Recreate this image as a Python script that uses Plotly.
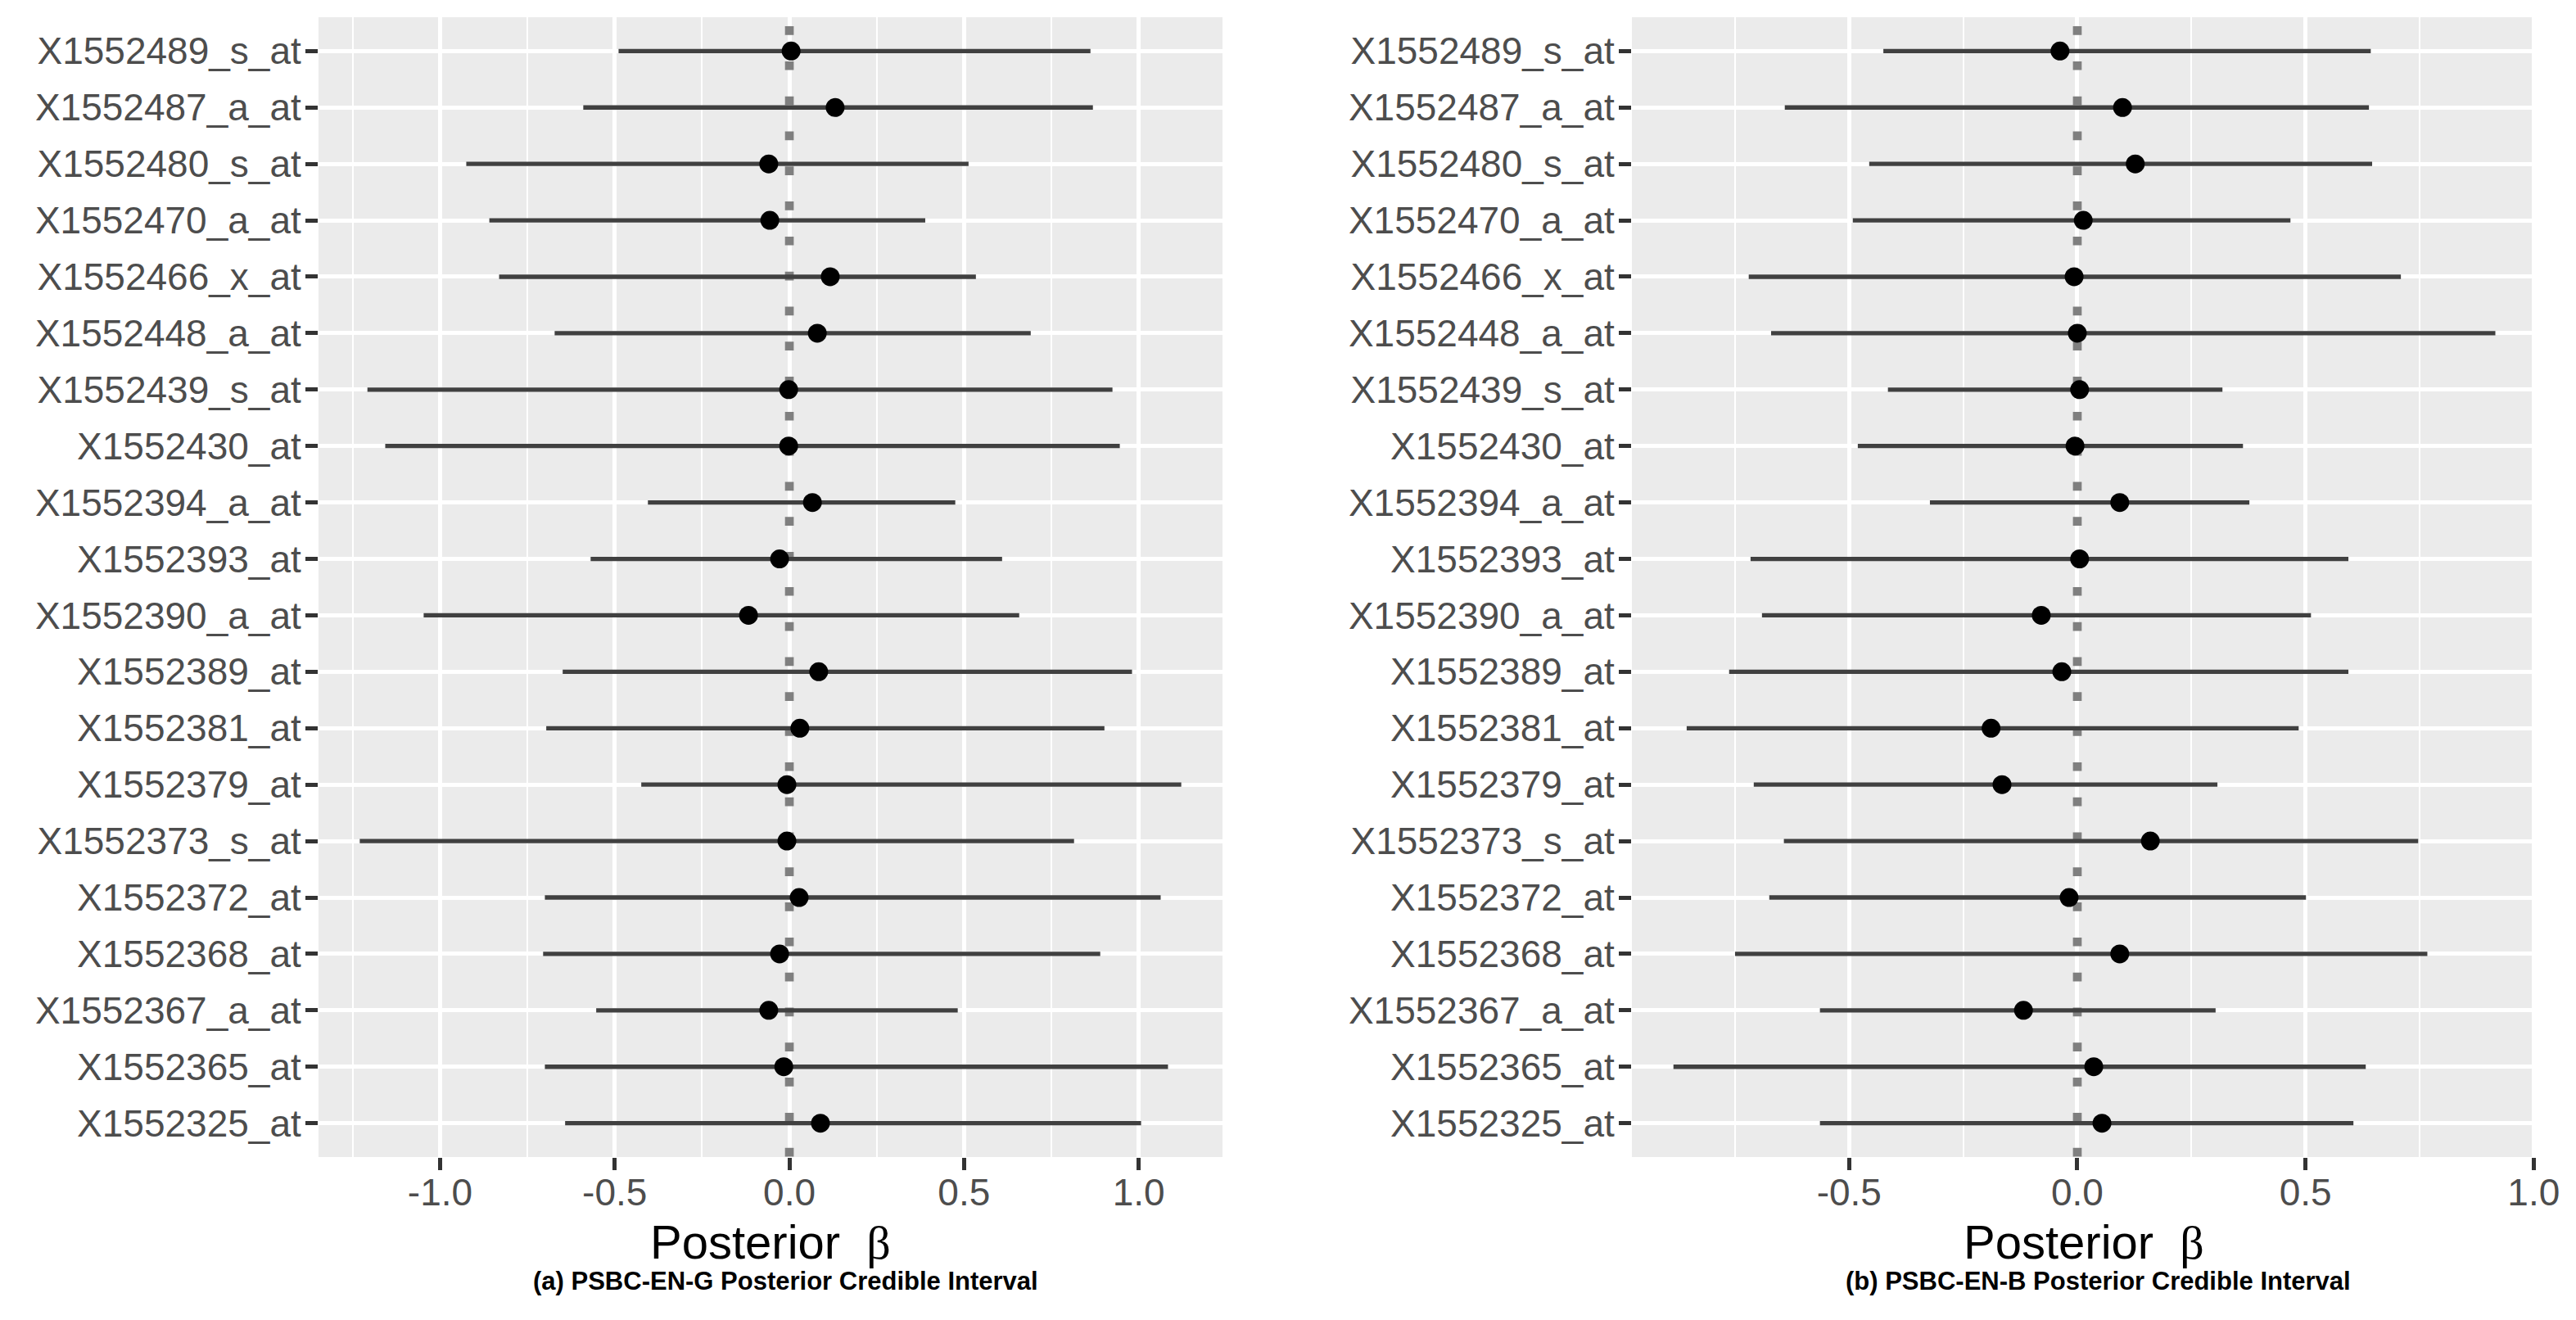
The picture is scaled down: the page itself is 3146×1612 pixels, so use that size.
import plotly.graph_objects as go

genes = ["X1552489_s_at", "X1552487_a_at", "X1552480_s_at", "X1552470_a_at",
         "X1552466_x_at", "X1552448_a_at", "X1552439_s_at", "X1552430_at",
         "X1552394_a_at", "X1552393_at", "X1552390_a_at", "X1552389_at",
         "X1552381_at", "X1552379_at", "X1552373_s_at", "X1552372_at",
         "X1552368_at", "X1552367_a_at", "X1552365_at", "X1552325_at"]

# (a) PSBC-EN-G
g_est = [0.005, 0.131, -0.059, -0.056, 0.117, 0.080, -0.002, -0.002, 0.066, -0.028,
         -0.117, 0.084, 0.030, -0.007, -0.007, 0.028, -0.028, -0.059, -0.016, 0.089]
g_low = [-0.489, -0.590, -0.925, -0.859, -0.831, -0.672, -1.208, -1.157, -0.405, -0.569,
         -1.047, -0.649, -0.696, -0.424, -1.230, -0.700, -0.705, -0.553, -0.700, -0.642]
g_high = [0.862, 0.869, 0.513, 0.389, 0.534, 0.691, 0.925, 0.946, 0.475, 0.609,
          0.658, 0.981, 0.902, 1.122, 0.815, 1.063, 0.890, 0.482, 1.084, 1.007]

# (b) PSBC-EN-B
b_est = [-0.038, 0.099, 0.127, 0.013, -0.007, 0.000, 0.005, -0.005, 0.093, 0.005,
         -0.079, -0.034, -0.189, -0.165, 0.160, -0.018, 0.093, -0.118, 0.036, 0.054]
b_low = [-0.425, -0.641, -0.456, -0.492, -0.720, -0.671, -0.415, -0.481, -0.323, -0.716,
         -0.691, -0.763, -0.856, -0.709, -0.643, -0.675, -0.750, -0.564, -0.885, -0.564]
b_high = [0.643, 0.639, 0.646, 0.467, 0.709, 0.916, 0.318, 0.363, 0.377, 0.594,
          0.512, 0.594, 0.485, 0.307, 0.747, 0.501, 0.767, 0.303, 0.632, 0.605]

g_ticks = [-1.0, -0.5, 0.0, 0.5, 1.0]
g_ticklabels = ["-1.0", "-0.5", "0.0", "0.5", "1.0"]
b_ticks = [-0.5, 0.0, 0.5, 1.0]
b_ticklabels = ["-0.5", "0.0", "0.5", "1.0"]

captions = ["(a) PSBC-EN-G Posterior Credible Interval",
            "(b) PSBC-EN-B Posterior Credible Interval"]
x_title = "Posterior\u00a0\u00a0<span style=\"font-family:'Liberation Serif'\">β</span>"

W, H = 3146, 1612
FONT = "Liberation Sans"
panels = [
    dict(est=g_est, low=g_low, high=g_high, dom=(389, 1493), rng=[-1.348, 1.240],
         ticks=g_ticks, labels=g_ticklabels, cap_x=959),
    dict(est=b_est, low=b_low, high=b_high, dom=(1993, 3096), rng=[-0.976, 1.003],
         ticks=b_ticks, labels=b_ticklabels, cap_x=2562),
]
top_px, bot_px = 21, 1413
n = len(genes)
pos = list(range(n))
row_px = (bot_px - top_px) / (n - 1 + 1.2)

fig = go.Figure()
for i, p in enumerate(panels):
    xa = "x" if i == 0 else "x2"
    ya = "y" if i == 0 else "y2"
    # dotted zero reference line (drawn first, clipped to the panel)
    y_start = -0.6 - (31.7 / row_px)
    fig.add_trace(go.Scatter(
        x=[0, 0], y=[y_start, n + 1], xaxis=xa, yaxis=ya, mode="lines",
        line=dict(color="#7F7F7F", width=10.7, dash="10.7px,32.1px"),
        showlegend=False, hoverinfo="skip", cliponaxis=True))
    plus = [h - e for h, e in zip(p["high"], p["est"])]
    minus = [e - l for e, l in zip(p["est"], p["low"])]
    fig.add_trace(go.Scatter(
        x=p["est"], y=pos, xaxis=xa, yaxis=ya, mode="markers",
        marker=dict(color="black", size=23, line=dict(width=0)),
        error_x=dict(type="data", symmetric=False, array=plus, arrayminus=minus,
                     color="#404040", thickness=5.3, width=0),
        showlegend=False, hoverinfo="skip", cliponaxis=False))

    ax = dict(domain=[p["dom"][0] / W, p["dom"][1] / W], range=p["rng"],
              tickmode="array", tickvals=p["ticks"], ticktext=p["labels"],
              showgrid=True, gridcolor="white", gridwidth=4.5,
              minor=dict(dtick=0.25, tick0=-1.25, showgrid=True, gridcolor="white",
                         gridwidth=2, ticks=""),
              zeroline=False, showline=False, automargin=False,
              ticks="outside", ticklen=15, tickwidth=5, tickcolor="#333333",
              ticklabelstandoff=-12,
              tickfont=dict(family=FONT, size=46, color="#4D4D4D"),
              anchor=ya, fixedrange=True)
    ay = dict(domain=[(H - bot_px) / H, (H - top_px) / H],
              tickmode="array", tickvals=pos, ticktext=genes, range=[n - 0.4, -0.6],
              showgrid=True, gridcolor="white", gridwidth=5, zeroline=False,
              showline=False, automargin=False, ticks="outside", ticklen=15,
              tickwidth=5, tickcolor="#333333", ticklabelstandoff=-4,
              tickfont=dict(family=FONT, size=46, color="#4D4D4D"),
              anchor=xa, fixedrange=True)
    if i == 0:
        fig.update_layout(xaxis=ax, yaxis=ay)
    else:
        fig.update_layout(xaxis2=ax, yaxis2=ay)

    cx = (p["dom"][0] + p["dom"][1]) / 2 / W
    fig.add_annotation(text=x_title, x=cx, y=(H - 1517) / H, xref="paper", yref="paper",
                       showarrow=False, xanchor="center", yanchor="middle",
                       font=dict(family=FONT, size=58, color="black"))
    fig.add_annotation(text="<b>" + captions[i] + "</b>", x=p["cap_x"] / W,
                       y=(H - 1564) / H, xref="paper", yref="paper",
                       showarrow=False, xanchor="center", yanchor="middle",
                       font=dict(family=FONT, size=31, color="black"))

fig.update_layout(width=W, height=H, margin=dict(l=0, r=0, t=0, b=0, autoexpand=False),
                  paper_bgcolor="white", plot_bgcolor="#EBEBEB")

fig.write_html("out.html", config={"displayModeBar": False},
               post_script="document.body.style.margin='0';document.body.style.overflow='hidden';")
